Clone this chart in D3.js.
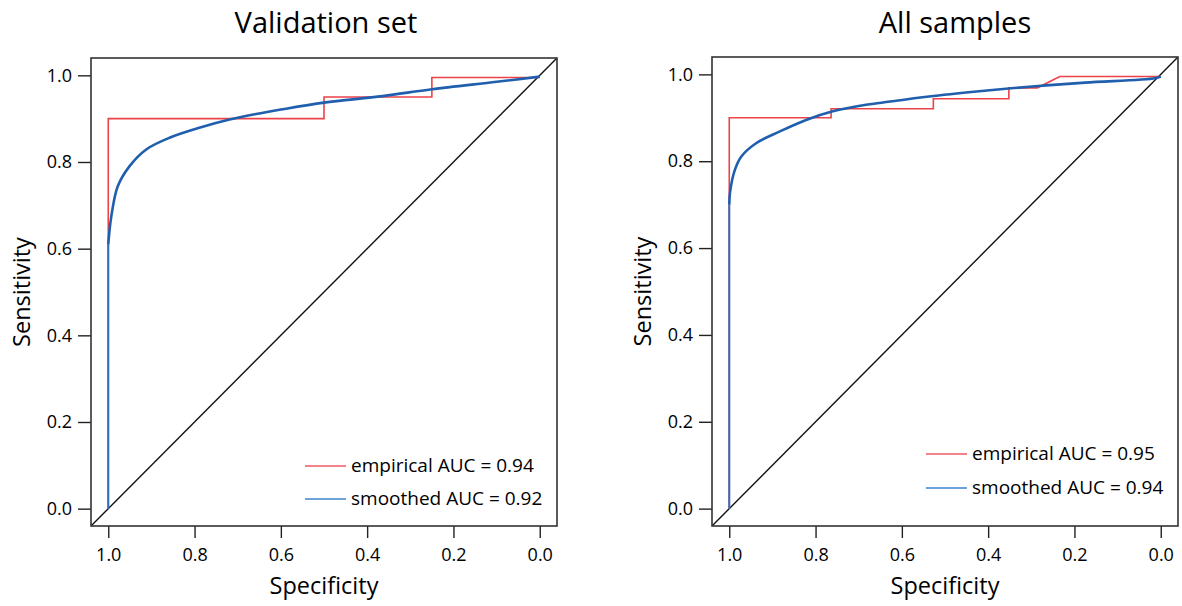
<!doctype html>
<html lang="en">
<head>
<meta charset="utf-8">
<title>ROC curves</title>
<style>
html, body {
	margin: 0;
	padding: 0;
	background: #fff;
	overflow: hidden;
}
svg text {
	font-family: 'Open Sans', 'Lato', sans-serif;
	fill: #000;
}
.tick line { stroke: #222; stroke-width: 1.4px; }
.tick text { font-size: 18px; fill: #000; }
.box { fill: none; stroke: #333; stroke-width: 1.6px; }
.diag { stroke: #111; stroke-width: 1.4px; }
.emp { fill: none; stroke: #ec4248; stroke-width: 1.6px; }
.smooth { fill: none; stroke: #1f5fae; stroke-width: 2.6px; stroke-linejoin: round; }
.smooth.stem { stroke: #2f6fbe; stroke-width: 2px; }
</style>
</head>
<body>
<div id="container"></div>
<script src="https://cdnjs.cloudflare.com/ajax/libs/d3/7.8.5/d3.min.js"></script>
<script>
(function () {
	'use strict';

	/* DATA */

	var titles = ['Validation set', 'All samples'];
	var ticks = [0, 0.2, 0.4, 0.6, 0.8, 1.0];
	var legendLabels = [
		['empirical AUC = 0.94', 'smoothed AUC = 0.92'],
		['empirical AUC = 0.95', 'smoothed AUC = 0.94']
	];

	// empirical ROC, validation set
	var empSpecA = [1.0, 1.0, 0.5, 0.5, 0.25, 0.25, 0.0];
	var empSensA = [0.0, 0.9, 0.9, 0.95, 0.95, 0.995, 0.995];

	// smoothed ROC, validation set
	var smSpecA = [1.0, 1.0, 0.993, 0.978, 0.951, 0.912, 0.858, 0.789, 0.719, 0.65, 0.6, 0.5, 0.364, 0.25, 0.1, 0.0];
	var smSensA = [0.0, 0.61, 0.674, 0.744, 0.79, 0.829, 0.856, 0.879, 0.898, 0.912, 0.921, 0.937, 0.952, 0.968, 0.985, 0.997];

	// empirical ROC, all samples
	var empSpecB = [1.0, 1.0, 0.764, 0.764, 0.527, 0.527, 0.352, 0.352, 0.286, 0.234, 0.0];
	var empSensB = [0.0, 0.9, 0.9, 0.921, 0.921, 0.944, 0.944, 0.969, 0.969, 0.995, 0.995];

	// smoothed ROC, all samples
	var smSpecB = [1.0, 1.0, 0.998, 0.987, 0.972, 0.937, 0.884, 0.822, 0.76, 0.683, 0.652, 0.537, 0.421, 0.298, 0.175, 0.013, 0.0];
	var smSensB = [0.0, 0.7, 0.73, 0.78, 0.811, 0.842, 0.868, 0.895, 0.915, 0.93, 0.934, 0.949, 0.961, 0.972, 0.981, 0.991, 0.995];

	/* LAYOUT */

	var W = 1182, H = 606;
	var boxes = [
		{ left: 91, right: 557, top: 58, bottom: 526, legY: [466, 499], titleDx: 2 },
		{ left: 712, right: 1178, top: 57, bottom: 526, legY: [454, 488], titleDx: 10 }
	];

	var zip = function (xs, ys) {
		return xs.map(function (x, i) { return [x, ys[i]]; });
	};

	var empirical = [zip(empSpecA, empSensA), zip(empSpecB, empSensB)];
	var smoothed = [zip(smSpecA, smSensA), zip(smSpecB, smSensB)];

	var svg = d3.select('#container').append('svg')
		.attr('width', W)
		.attr('height', H);

	var fmt = d3.format('.1f');

	boxes.forEach(function (b, i) {
		var x = d3.scaleLinear().domain([1.04, -0.04]).range([b.left, b.right]);
		var y = d3.scaleLinear().domain([-0.04, 1.04]).range([b.bottom, b.top]);
		var g = svg.append('g');

		var clipId = 'clip' + i;
		g.append('clipPath').attr('id', clipId)
			.append('rect')
			.attr('x', b.left).attr('y', b.top)
			.attr('width', b.right - b.left).attr('height', b.bottom - b.top);

		// axes
		g.append('g')
			.attr('transform', 'translate(' + b.left + ',0)')
			.call(d3.axisLeft(y).tickValues(ticks).tickFormat(fmt).tickSize(13).tickPadding(6))
			.call(function (s) { s.select('.domain').remove(); });
		g.append('g')
			.attr('transform', 'translate(0,' + b.bottom + ')')
			.call(d3.axisBottom(x).tickValues(ticks).tickFormat(fmt).tickSize(12).tickPadding(10))
			.call(function (s) { s.select('.domain').remove(); });

		// chance line
		g.append('line').attr('class', 'diag')
			.attr('clip-path', 'url(#' + clipId + ')')
			.attr('x1', x(1.04)).attr('y1', y(-0.04))
			.attr('x2', x(-0.04)).attr('y2', y(1.04));

		var line = d3.line()
			.x(function (d) { return x(d[0]); })
			.y(function (d) { return y(d[1]); });

		g.append('path').attr('class', 'emp')
			.attr('d', line(empirical[i]));

		// vertical stem of the smoothed curve, then the curved part
		var sm = smoothed[i];
		g.append('path').attr('class', 'smooth stem')
			.attr('d', line(sm.slice(0, 2)));
		g.append('path').attr('class', 'smooth')
			.attr('d', line.curve(d3.curveCatmullRom.alpha(0.5))(sm.slice(1)));

		g.append('rect').attr('class', 'box')
			.attr('x', b.left).attr('y', b.top)
			.attr('width', b.right - b.left).attr('height', b.bottom - b.top);

		// legend
		var colors = ['#ef5a60', '#3b86cc'];
		legendLabels[i].forEach(function (lab, k) {
			g.append('line')
				.attr('x1', b.right - 252).attr('x2', b.right - 211)
				.attr('y1', b.legY[k]).attr('y2', b.legY[k])
				.attr('stroke', colors[k]).attr('stroke-width', 1.3);
			g.append('text')
				.attr('x', b.right - 206).attr('y', b.legY[k] + 6)
				.style('font-size', '19px')
				.text(lab);
		});

		// titles
		var cx = (x(1) + x(0)) / 2;
		g.append('text')
			.attr('x', cx + b.titleDx).attr('y', 33)
			.attr('text-anchor', 'middle')
			.style('font-size', '29px')
			.text(titles[i]);
		g.append('text')
			.attr('x', cx).attr('y', 594)
			.attr('text-anchor', 'middle')
			.style('font-size', '23.5px')
			.text('Specificity');
		g.append('text')
			.attr('transform', 'translate(' + (b.left - 61) + ',' + ((y(0) + y(1)) / 2) + ') rotate(-90)')
			.attr('text-anchor', 'middle')
			.style('font-size', '23.5px')
			.text('Sensitivity');
	});
})();
</script>
</body>
</html>
